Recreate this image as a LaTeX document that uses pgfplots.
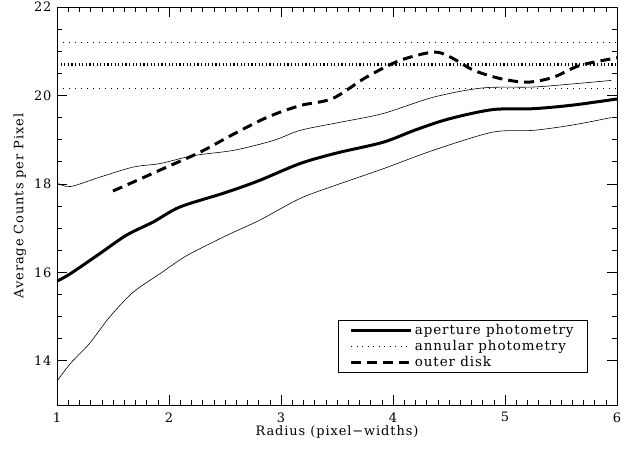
\documentclass[border=0pt]{standalone}
\usepackage{fontspec}
\setmainfont{DejaVu Serif}[LetterSpace=7]
\usepackage{pgfplots}
\pgfplotsset{compat=1.18}
\usetikzlibrary{calc}

\begin{document}
\fontsize{13}{15}\selectfont
\begin{tikzpicture}
\begin{axis}[
  scale only axis,width=560bp,height=398bp,
  xmin=1,xmax=6,ymin=13,ymax=22,
  xtick={1,2,3,4,5,6},ytick={14,16,18,20,22},
  minor x tick num=9,minor y tick num=3,
  tick align=inside,
  major tick length=10bp,minor tick length=5bp,
  every tick/.style={black,line width=0.6pt},
  axis line style={line width=0.8pt},
  /pgf/number format/assume math mode=true,
  tick label style={font=\fontsize{13}{15}\selectfont},
  xticklabel style={yshift=-3bp},
  yticklabel style={xshift=-1bp},
  xlabel={Radius (pixel−widths)},
  ylabel={Average Counts per Pixel},
  label style={font=\fontsize{13}{15}\selectfont},
  xlabel style={yshift=5bp},
  ylabel style={yshift=-1bp},
  legend cell align=left,
  legend style={at={(0.948,0.081)},anchor=south east,draw=black,line width=0.6pt,
    font=\fontsize{13.5}{14}\selectfont,inner xsep=12bp,inner ysep=2bp,
    /tikz/every even column/.append style={column sep=6bp}},
  legend image code/.code={\draw[#1] (0bp,0bp) -- (60bp,0bp);},
]
% aperture photometry
\addplot[black,line width=3pt,smooth] coordinates {
(1.0,15.8) (1.12,15.97) (1.38,16.42) (1.62,16.84) (1.86,17.14) (2.1,17.48)
(2.5,17.8) (2.8,18.07) (3.17,18.46) (3.5,18.7) (3.91,18.94) (4.2,19.22)
(4.5,19.47) (4.89,19.68) (5.25,19.7) (5.6,19.78) (6.0,19.92)};
\addlegendentry{aperture photometry}
% annular photometry
\addplot[black,line width=3pt,dash pattern=on 1.2bp off 2.4bp,
  legend image code/.code={\draw[black,line width=1pt,dash pattern=on 1pt off 4.5pt] (0bp,0bp) -- (60bp,0bp);}]
  coordinates {(1,20.69) (6,20.69)};
\addlegendentry{annular photometry}
% outer disk
\addplot[black,line width=3pt,dash pattern=on 10bp off 6bp,smooth] coordinates {
(1.5,17.84) (1.68,18.04) (1.98,18.38) (2.28,18.72) (2.58,19.13) (2.88,19.51)
(3.17,19.77) (3.46,19.93) (3.76,20.41) (4.06,20.79) (4.36,20.98) (4.51,20.87)
(4.72,20.57) (4.96,20.38) (5.2,20.3) (5.43,20.41) (5.67,20.68) (6.0,20.85)};
\addlegendentry{outer disk}
% error envelope
\addplot[black,line width=0.6pt,smooth,forget plot] coordinates {
(1.0,18.02) (1.12,17.94) (1.38,18.15) (1.68,18.38) (1.92,18.46) (2.22,18.64)
(2.58,18.76) (2.93,18.98) (3.17,19.21) (3.5,19.38) (3.91,19.59) (4.36,19.96)
(4.8,20.17) (5.25,20.19) (5.6,20.26) (5.95,20.34)};
\addplot[black,line width=0.6pt,smooth,forget plot] coordinates {
(1.0,13.54) (1.12,13.94) (1.29,14.39) (1.47,14.99) (1.68,15.55) (1.92,15.97)
(2.16,16.38) (2.52,16.84) (2.81,17.18) (3.17,17.67) (3.5,17.98) (3.91,18.34)
(4.36,18.76) (4.89,19.17) (5.25,19.21) (5.6,19.33) (5.95,19.5)};
\addplot[black,line width=0.8pt,dash pattern=on 1bp off 5bp,forget plot] coordinates {(1,21.21) (6,21.21)};
\addplot[black,line width=0.8pt,dash pattern=on 1bp off 5bp,forget plot] coordinates {(1,20.15) (6,20.15)};
\end{axis}
\pgfresetboundingbox
\path ($(current axis.south west)+(-57bp,-44bp)$) rectangle ($(current axis.north east)+(15bp,7bp)$);
\end{tikzpicture}
\end{document}
